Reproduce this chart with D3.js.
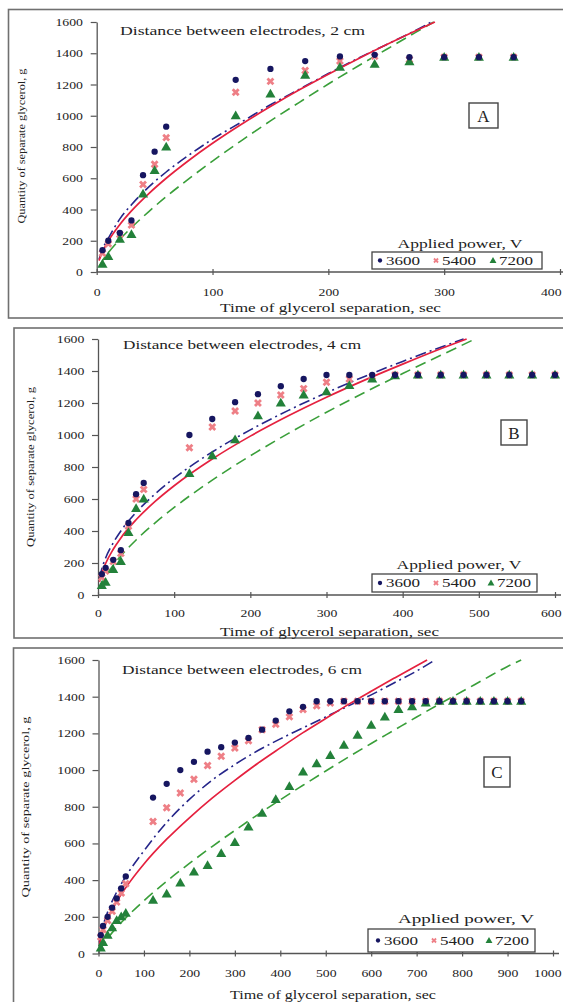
<!DOCTYPE html>
<html><head><meta charset="utf-8">
<script src="https://cdn.jsdelivr.net/npm/d3@7"></script>
<style>
body{margin:0;background:#fff;}
svg{display:block;}
text{font-family:"Liberation Serif","Times New Roman",serif;fill:#222;}
</style>
</head><body>
<svg id="chart" width="563" height="1002"></svg>
<script>
// ---------- categories / labels ----------
const seriesNames = ["3600", "5400", "7200"];
const yTicks = [0, 200, 400, 600, 800, 1000, 1200, 1400, 1600];
const xTicksA = [0, 100, 200, 300, 400];
const xTicksB = [0, 100, 200, 300, 400, 500, 600];
const xTicksC = [0, 100, 200, 300, 400, 500, 600, 700, 800, 900, 1000];
const titles = ["Distance between electrodes, 2 cm", "Distance between electrodes, 4 cm", "Distance between electrodes, 6 cm"];
const panelLetters = ["A", "B", "C"];
const xTitle = "Time of glycerol separation, sec";
const yTitle = "Quantity of separate glycerol, g";
const legendTitle = "Applied power, V";

// ---------- panel A (2 cm) measured points ----------
const tA = [5,10,20,30,40,50,60,120,150,180,210,240,270,300,330,360];
const a3600 = [140,200,250,330,620,770,930,1230,1300,1350,1380,1390,1375,1375,1375,1375];
const a5400 = [120,180,240,300,560,690,860,1150,1220,1290,1350,1380,1360,1375,1375,1375];
const a7200 = [50,100,210,240,500,650,800,1000,1140,1260,1310,1330,1345,1375,1375,1375];
// panel A fitted curves
const fitA3600_t = [2,5,10,20,30,45,60,80,100,125,150,175,200,225,250,275,289];
const fitA3600_v = [80,145,215,340,430,545,640,750,850,960,1070,1170,1270,1365,1455,1545,1600];
const fitA5400_t = [2,5,10,20,30,45,60,80,100,125,150,175,200,225,250,275,292];
const fitA5400_v = [73,129,198,304,391,502,600,717,824,946,1059,1166,1266,1362,1454,1542,1600];
const fitA7200_t = [2,5,10,20,30,45,60,80,100,125,150,175,200,225,250,275,291];
const fitA7200_v = [36,73,123,209,284,387,482,599,710,841,967,1086,1203,1315,1424,1532,1600];

// ---------- panel B (4 cm) measured points ----------
const tB = [5,10,20,30,40,50,60,120,150,180,210,240,270,300,330,360,390,420,450,480,510,540,570,600];
const b3600 = [130,170,220,280,450,630,700,1000,1100,1205,1255,1305,1350,1375,1375,1375,1375,1375,1375,1375,1375,1375,1375,1375];
const b5400 = [110,150,210,260,430,600,660,920,1050,1150,1200,1250,1290,1330,1350,1365,1375,1375,1375,1375,1375,1375,1375,1375];
const b7200 = [60,80,160,210,390,540,600,760,870,970,1120,1200,1250,1270,1310,1350,1370,1375,1375,1375,1375,1375,1375,1375];
// panel B fitted curves
const fitB3600_t = [2,5,10,20,30,50,75,100,150,200,250,300,350,400,450,480];
const fitB3600_v = [103,163,231,326,400,516,632,730,894,1032,1154,1264,1366,1460,1549,1600];
const fitB5400_t = [2,5,10,20,30,50,75,100,150,200,250,300,350,400,450,484];
const fitB5400_v = [83,135,197,286,357,470,585,683,850,993,1120,1236,1343,1443,1539,1600];
const fitB7200_t = [2,5,10,20,30,50,75,100,150,200,250,300,350,400,450,495];
const fitB7200_v = [40,73,117,186,244,344,451,547,718,870,1010,1142,1266,1384,1498,1600];

// ---------- panel C (6 cm) measured points ----------
const tC = [5,10,20,30,40,50,60,120,150,180,210,240,270,300,330,360,390,420,450,480,510,540,570,600,630,660,690,720,750,780,810,840,870,900,930];
const c3600 = [100,150,200,250,300,355,420,850,925,1000,1045,1100,1125,1150,1175,1220,1270,1320,1345,1375,1375,1375,1375,1375,1375,1375,1375,1375,1375,1375,1375,1375,1375,1375,1375];
const c5400 = [90,130,180,230,280,330,380,720,795,875,950,1025,1075,1120,1160,1220,1250,1290,1330,1350,1365,1375,1375,1375,1375,1375,1375,1375,1375,1375,1375,1375,1375,1375,1375];
const c7200 = [30,60,100,140,180,200,220,290,325,385,445,480,545,605,690,765,840,910,990,1035,1080,1135,1190,1245,1290,1330,1345,1365,1375,1375,1375,1375,1375,1375,1375];
// panel C fitted curves
const fitC3600_t = [2,5,10,20,40,60,100,150,200,250,300,350,400,450,500,550,600,650,700,740];
const fitC3600_v = [60,100,150,225,335,420,560,715,840,945,1030,1105,1170,1230,1290,1350,1410,1475,1540,1600];
const fitC5400_t = [2,5,10,20,40,60,100,150,200,250,300,350,400,450,500,550,600,650,700,723];
const fitC5400_v = [47,81,123,186,282,359,488,623,740,847,944,1036,1121,1204,1281,1358,1430,1500,1569,1600];
const fitC7200_t = [2,5,10,20,40,60,100,150,200,250,300,350,400,450,500,550,600,650,700,750,800,850,900,930];
const fitC7200_v = [14,29,49,83,142,194,288,394,491,583,671,756,838,917,995,1071,1145,1217,1289,1360,1428,1497,1565,1600];

// ---------- styles ----------
const markerColor = {"3600":"#161660", "5400":"#ee7f86", "7200":"#23813a"};
const lineColor = {"3600":"#26268a", "5400":"#e5213f", "7200":"#3a9f3a"};
const lineDash = {"3600":"11,4,2,4", "5400":null, "7200":"11,6"};

const panels = [
  {t:tA, pts:[a3600,a5400,a7200],
   fits:[[fitA3600_t,fitA3600_v],[fitA5400_t,fitA5400_v],[fitA7200_t,fitA7200_v]],
   xTicks:xTicksA, frame:[8.5,9.5,580,308.5], xr:[96.7,560], yr:[272,22], xPad:12,
   title:[120,35,245], xt:[220,312,221], yt:[25,146,155], box:[469,103,29,25],
   legend:{cx:460, ty:248, tw:125, box:[372,252,170,17], sx:[380,436,493]}},
  {t:tB, pts:[b3600,b5400,b7200],
   fits:[[fitB3600_t,fitB3600_v],[fitB5400_t,fitB5400_v],[fitB7200_t,fitB7200_v]],
   xTicks:xTicksB, frame:[14,328,580,310], xr:[98,555], yr:[595,339], xPad:10,
   title:[123,349,238], xt:[220,636,219], yt:[34,467,160], box:[501,420,26,25],
   legend:{cx:459, ty:569, tw:125, box:[372,574,165,18], sx:[380,436,491]}},
  {t:tC, pts:[c3600,c5400,c7200],
   fits:[[fitC3600_t,fitC3600_v],[fitC5400_t,fitC5400_v],[fitC7200_t,fitC7200_v]],
   xTicks:xTicksC, frame:[13.5,648,580,370], xr:[98.5,553], yr:[953.5,660], xPad:12,
   title:[122,674,240], xt:[230,999,206], yt:[29,807,181], box:[484,757,26,30],
   legend:{cx:466, ty:923, tw:136, box:[368,929,167,23], sx:[378,434,489]}}
];

const svg = d3.select("#chart");

function marker(g, name, x, y, size) {
  if (name === "3600") {
    g.append("circle").attr("cx", x).attr("cy", y).attr("r", size*0.9).attr("fill", markerColor[name]);
  } else if (name === "5400") {
    g.append("path").attr("d", d3.symbol(d3.symbolCross, size*size*3.2)())
      .attr("transform", `translate(${x},${y}) rotate(45)`).attr("fill", markerColor[name]);
  } else {
    g.append("path").attr("d", d3.symbol(d3.symbolTriangle, size*size*3.6)())
      .attr("transform", `translate(${x},${y+0.6})`).attr("fill", markerColor[name]);
  }
}

panels.forEach((p, i) => {
  const g = svg.append("g");
  // frame
  g.append("rect").attr("x", p.frame[0]).attr("y", p.frame[1])
    .attr("width", p.frame[2]).attr("height", p.frame[3])
    .attr("fill", "none").attr("stroke", "#707070").attr("stroke-width", 1.6);

  const xMax = p.xTicks[p.xTicks.length - 1];
  const x = d3.scaleLinear().domain([0, xMax]).range(p.xr);
  const y = d3.scaleLinear().domain([0, 1600]).range(p.yr);

  const clipId = "clip" + i;
  svg.append("clipPath").attr("id", clipId).append("rect")
    .attr("x", p.xr[0]).attr("y", p.yr[1] - 2).attr("width", p.xr[1] - p.xr[0] + 10)
    .attr("height", p.yr[0] - p.yr[1] + 2);

  // axes
  const ya = g.append("g").attr("transform", `translate(${p.xr[0]},0)`)
    .call(d3.axisLeft(y).tickValues(yTicks).tickSize(6).tickPadding(5).tickSizeOuter(0).tickFormat(d3.format("d")));
  const xa = g.append("g").attr("transform", `translate(0,${p.yr[0]})`)
    .call(d3.axisBottom(x).tickValues(p.xTicks).tickSize(4).tickPadding(p.xPad).tickSizeOuter(0).tickFormat(d3.format("d")));
  xa.select(".domain").attr("d", `M${p.xr[0]},0H${Math.min(p.xr[1] + 6, 563)}`);
  xa.selectAll(".tick line").attr("y1", -3).attr("y2", 3);
  [ya, xa].forEach(a => {
    a.select(".domain").attr("stroke", "#555").attr("stroke-width", 1.3);
    a.selectAll(".tick line").attr("stroke", "#555").attr("stroke-width", 1.2);
    a.selectAll(".tick text").attr("font-family", "Liberation Serif, serif")
      .attr("font-size", 11).attr("fill", "#333").attr("transform", "scale(1.25,1)");
  });
  // keep the last x label inside the picture
  xa.selectAll(".tick text").filter(d => d === xMax)
    .attr("text-anchor", "end").attr("x", (561 - p.xr[1]) / 1.25);

  // fitted curves
  const line = d3.line().x(d => x(d[0])).y(d => y(d[1])).curve(d3.curveMonotoneX);
  const lg = g.append("g").attr("clip-path", `url(#${clipId})`);
  const order = [2, 0, 1];
  order.forEach(k => {
    const f = p.fits[k];
    const name = seriesNames[k];
    lg.append("path").datum(f[0].map((t, j) => [t, f[1][j]]))
      .attr("d", line).attr("fill", "none")
      .attr("stroke", lineColor[name]).attr("stroke-width", name === "5400" ? 1.7 : 1.6)
      .attr("stroke-dasharray", lineDash[name]);
  });

  // measured points (circles drawn last so overlapping plateau points look dark)
  const mg = g.append("g");
  [1, 2, 0].forEach(k => {
    const name = seriesNames[k];
    p.pts[k].forEach((v, j) => marker(mg, name, x(p.t[j]), y(v), 3.5));
  });

  // title
  g.append("text").attr("x", p.title[0]).attr("y", p.title[1])
    .attr("font-size", 12).attr("textLength", p.title[2]).attr("lengthAdjust", "spacingAndGlyphs")
    .text(titles[i]);
  // x title
  g.append("text").attr("x", p.xt[0]).attr("y", p.xt[1])
    .attr("font-size", 12).attr("textLength", p.xt[2]).attr("lengthAdjust", "spacingAndGlyphs")
    .text(xTitle);
  // y title
  g.append("text").attr("transform", `translate(${p.yt[0]},${p.yt[1]}) rotate(-90)`)
    .attr("text-anchor", "middle").attr("font-size", 10.5)
    .attr("textLength", p.yt[2]).attr("lengthAdjust", "spacingAndGlyphs")
    .text(yTitle);

  // panel letter box
  g.append("rect").attr("x", p.box[0]).attr("y", p.box[1]).attr("width", p.box[2]).attr("height", p.box[3])
    .attr("fill", "#fff").attr("stroke", "#444").attr("stroke-width", 1.4);
  g.append("text").attr("x", p.box[0] + p.box[2] / 2).attr("y", p.box[1] + p.box[3] / 2 + 6)
    .attr("text-anchor", "middle").attr("font-size", 17).attr("fill", "#333").text(panelLetters[i]);

  // legend
  const L = p.legend;
  g.append("text").attr("x", L.cx).attr("y", L.ty).attr("text-anchor", "middle")
    .attr("font-size", 12).attr("textLength", L.tw).attr("lengthAdjust", "spacingAndGlyphs")
    .text(legendTitle);
  g.append("rect").attr("x", L.box[0]).attr("y", L.box[1]).attr("width", L.box[2]).attr("height", L.box[3])
    .attr("fill", "#fff").attr("stroke", "#444").attr("stroke-width", 1.3);
  const ly = L.box[1] + L.box[3] / 2;
  seriesNames.forEach((name, k) => {
    marker(g, name, L.sx[k], ly, 2.4);
    g.append("text").attr("x", L.sx[k] + 6).attr("y", ly + 4.2)
      .attr("font-size", 12).attr("textLength", 34).attr("lengthAdjust", "spacingAndGlyphs")
      .attr("fill", "#333").text(name);
  });
});
</script>
</body></html>
